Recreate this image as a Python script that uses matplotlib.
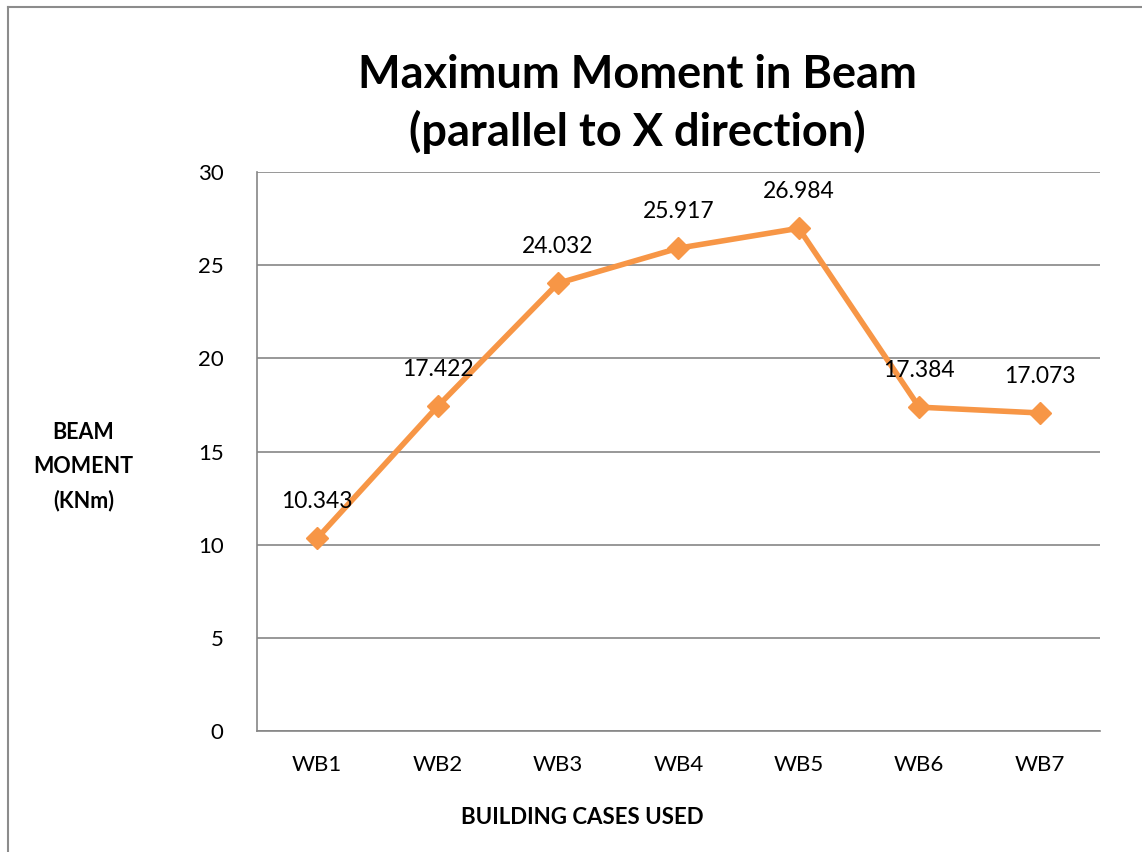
import matplotlib
matplotlib.use("Agg")
import matplotlib.pyplot as plt
from matplotlib.lines import Line2D

plt.rcParams["font.family"] = ["Lato", "DejaVu Sans"]

cases = ["WB1", "WB2", "WB3", "WB4", "WB5", "WB6", "WB7"]
moment = [10.343, 17.422, 24.032, 25.917, 26.984, 17.384, 17.073]
y_ticks = [0, 5, 10, 15, 20, 25, 30]

C_LINE = "#F79646"
C_GRID = "#868686"

fig = plt.figure(figsize=(11.42, 8.52), dpi=100)
ax = fig.add_axes([0.225, 0.142, 0.738, 0.656])

x = list(range(len(cases)))
ax.plot(x, moment, color=C_LINE, linewidth=4, marker="D", markersize=11,
        zorder=3, clip_on=False)

for xi, v in zip(x, moment):
    ax.annotate(f"{v:.3f}", xy=(xi, v), xytext=(0, 19), textcoords="offset points",
                ha="center", va="bottom", fontsize=16.5, color="black")

ax.set_xlim(-0.5, len(cases) - 0.5)
ax.set_ylim(0, 30)
ax.set_yticks(y_ticks)
ax.set_xticks(x)
ax.set_xticklabels(cases)
ax.tick_params(axis="both", length=0, labelsize=16, pad=17)
ax.tick_params(axis="y", pad=24)
ax.yaxis.grid(True, color=C_GRID, linewidth=1.2)
ax.set_axisbelow(True)
for side in ["top", "right"]:
    ax.spines[side].set_visible(False)
for side in ["left", "bottom"]:
    ax.spines[side].set_color(C_GRID)
    ax.spines[side].set_linewidth(1.2)

fig.text(0.558, 0.878, "Maximum Moment in Beam\n(parallel to X direction)",
         ha="center", va="center", fontsize=32.5, fontweight="bold", linespacing=1.4)
fig.text(0.073, 0.452, "BEAM\nMOMENT\n(KNm)", ha="center", va="center",
         fontsize=15.5, fontweight="bold", linespacing=1.75)
fig.text(0.51, 0.04, "BUILDING CASES USED", ha="center", va="center",
         fontsize=16, fontweight="bold")

# outer chart border (left and top edges visible)
fig.add_artist(Line2D([0.007, 0.007], [0.0, 0.992], transform=fig.transFigure,
                      color="#8C8C8C", linewidth=1.5))
fig.add_artist(Line2D([0.007, 1.0], [0.992, 0.992], transform=fig.transFigure,
                      color="#8C8C8C", linewidth=1.5))

fig.savefig("out.png", dpi=100)
